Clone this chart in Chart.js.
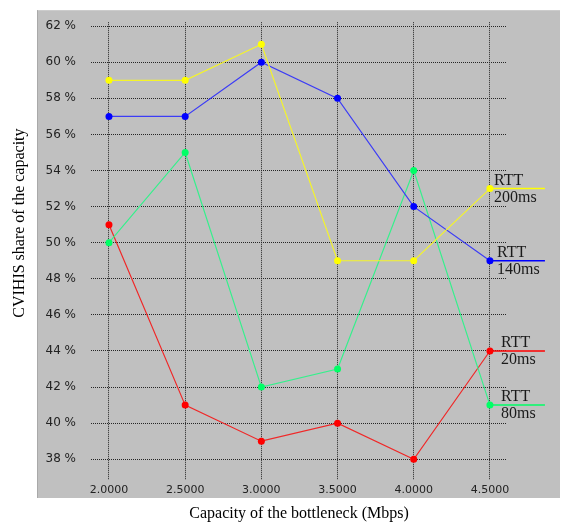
<!DOCTYPE html>
<html>
<head>
<meta charset="utf-8">
<script src="https://cdn.jsdelivr.net/npm/chart.js@4/dist/chart.umd.min.js"></script>
<style>
  html, body { margin: 0; padding: 0; background: #ffffff; }
  #wrap { width: 561px; height: 524px; }
</style>
</head>
<body>
<div id="wrap"><canvas id="c" width="561" height="524"></canvas></div>
<script>
// Bottleneck capacities (Mbps)
const capacities = [2.0, 2.5, 3.0, 3.5, 4.0, 4.5];
// CVIHIS share of the capacity (%) per RTT
const rtt200 = [59, 59, 61, 49, 49, 53];
const rtt140 = [57, 57, 60, 58, 52, 49];
const rtt80  = [50, 55, 42, 43, 54, 41];
const rtt20  = [51, 41, 39, 40, 38, 44];
// Series names shown at the line ends
const seriesTop    = ['RTT', 'RTT', 'RTT', 'RTT'];
const seriesBottom = ['200ms', '140ms', '80ms', '20ms'];
// Tick values
const xTicks = [2.0, 2.5, 3.0, 3.5, 4.0, 4.5];
const yTicks = [38, 40, 42, 44, 46, 48, 50, 52, 54, 56, 58, 60, 62];

const seriesValues = [rtt200, rtt140, rtt80, rtt20];
const lineColors  = ['#f4f42a', '#3c3cf6', '#36f08c', '#f02828'];
const pointColors = ['#ffff00', '#0000ff', '#00ff66', '#ff0000'];

const datasets = seriesValues.map((vals, i) => ({
  label: seriesTop[i] + ' ' + seriesBottom[i],
  data: capacities.map((c, j) => ({ x: c, y: vals[j] })),
  borderColor: lineColors[i],
  backgroundColor: pointColors[i],
  pointBackgroundColor: pointColors[i],
  pointBorderColor: pointColors[i],
  pointRadius: 3.5,
  pointBorderWidth: 0,
  borderWidth: 1.2,
  tension: 0,
  fill: false
}));

// Gray panel behind the plot and tick labels
const panelPlugin = {
  id: 'panel',
  beforeDraw(chart) {
    const { ctx, chartArea } = chart;
    const left = chartArea.left - 54;
    const top = chartArea.top - 12;
    const right = chart.width - 1;
    const bottom = chartArea.bottom + 18;
    ctx.save();
    ctx.fillStyle = '#c0c0c0';
    ctx.fillRect(left, top, right - left, bottom - top);
    ctx.strokeStyle = '#a9a9a9';
    ctx.lineWidth = 1;
    ctx.beginPath();
    ctx.moveTo(left + 0.5, top);
    ctx.lineTo(left + 0.5, bottom);
    ctx.stroke();
    ctx.restore();
  }
};

// Vertical axis title and end-of-line series labels
const labelPlugin = {
  id: 'endLabels',
  afterDraw(chart) {
    const { ctx, chartArea, scales } = chart;
    ctx.save();
    ctx.fillStyle = '#000000';
    ctx.font = '16px "Liberation Serif", "Times New Roman", serif';
    ctx.textAlign = 'center';
    ctx.textBaseline = 'middle';
    ctx.translate(20, (chartArea.top + chartArea.bottom) / 2 - 28);
    ctx.rotate(-Math.PI / 2);
    ctx.fillText('CVIHIS share of the capacity', 0, 0);
    ctx.restore();

    const textDx = [4, 7, 11, 11];
    chart.data.datasets.forEach((ds, i) => {
      const last = ds.data[ds.data.length - 1];
      const px = scales.x.getPixelForValue(last.x);
      const py = scales.y.getPixelForValue(last.y);
      ctx.save();
      ctx.strokeStyle = pointColors[i];
      ctx.lineWidth = 1.5;
      ctx.beginPath();
      ctx.moveTo(px, py);
      ctx.lineTo(px + 55, py);
      ctx.stroke();
      ctx.fillStyle = '#1a1a1a';
      ctx.font = '16px "Liberation Serif", "Times New Roman", serif';
      ctx.textAlign = 'left';
      ctx.textBaseline = 'alphabetic';
      ctx.fillText(seriesTop[i], px + textDx[i], py - 4);
      ctx.fillText(seriesBottom[i], px + textDx[i], py + 13);
      ctx.restore();
    });
  }
};

const gridStyle = {
  color: '#262626',
  lineWidth: 1,
  drawTicks: false,
  borderDash: [1, 1],
  dash: [1, 1]
};

new Chart(document.getElementById('c'), {
  type: 'line',
  data: { datasets },
  options: {
    responsive: false,
    animation: false,
    layout: { padding: { top: 18, right: 54, left: 0, bottom: 0 } },
    plugins: { legend: { display: false }, tooltip: { enabled: false } },
    scales: {
      x: {
        type: 'linear',
        min: 1.882,
        max: 4.612,
        afterBuildTicks(scale) { scale.ticks = xTicks.map(v => ({ value: v })); },
        afterFit(scale) { scale.height = 44; },
        grid: gridStyle,
        border: { display: false, dash: [1, 1] },
        ticks: {
          padding: 4,
          color: '#222222',
          font: { family: '"DejaVu Sans", sans-serif', size: 11 },
          maxRotation: 0,
          callback: v => Number(v).toFixed(4)
        },
        title: {
          display: true,
          text: 'Capacity of the bottleneck (Mbps)',
          color: '#000000',
          font: { family: '"Liberation Serif", "Times New Roman", serif', size: 16 },
          padding: { top: 0, bottom: 1 }
        }
      },
      y: {
        type: 'linear',
        min: 36.85,
        max: 62.22,
        afterBuildTicks(scale) { scale.ticks = yTicks.map(v => ({ value: v })); },
        afterFit(scale) { scale.width = 91; },
        grid: gridStyle,
        border: { display: false, dash: [1, 1] },
        ticks: {
          padding: 15,
          color: '#222222',
          font: { family: '"DejaVu Sans", sans-serif', size: 12 },
          callback: v => v + ' %'
        }
      }
    }
  },
  plugins: [panelPlugin, labelPlugin]
});
</script>
</body>
</html>
